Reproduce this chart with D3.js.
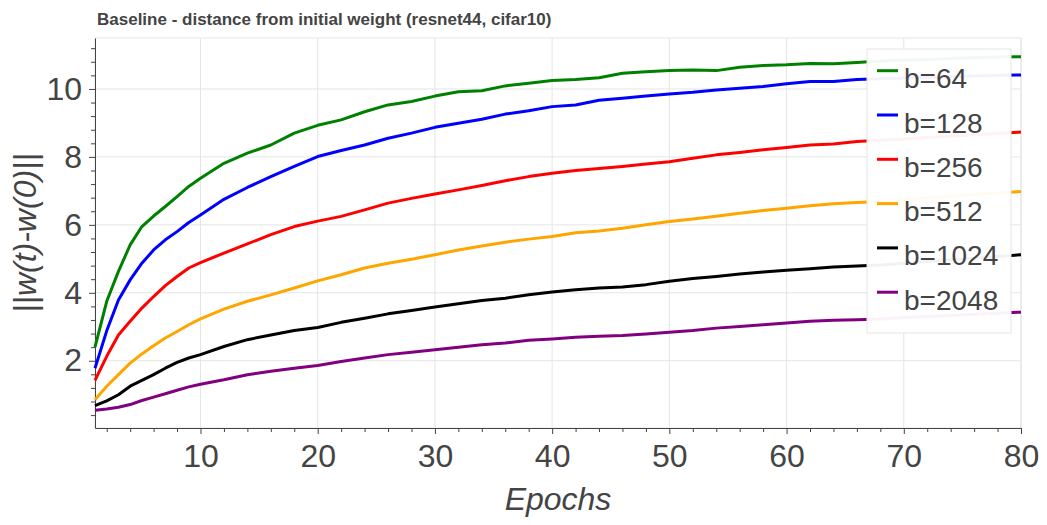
<!DOCTYPE html>
<html>
<head>
<meta charset="utf-8">
<script src="https://cdn.jsdelivr.net/npm/d3@7"></script>
<style>
    body { margin: 0; background: #fff; }
    text { font-family: 'Liberation Sans', Arial, Helvetica, sans-serif; fill: #444; }
    .grid line { stroke: #e5e5e5; }
    .axis path, .axis line { stroke: #444; }
</style>
</head>
<body>
<svg width="1047" height="525"></svg>
<script>
const svg = d3.select('svg');

const width = +svg.attr('width');
const height = +svg.attr('height');

const epochs = [1, 2, 3, 4, 5, 6, 7, 8, 9, 10,
    12, 14, 16, 18, 20, 22, 24, 26, 28, 30, 32, 34, 36, 38, 40,
    42, 44, 46, 48, 50, 52, 54, 56, 58, 60, 62, 64, 66, 68, 70,
    72, 74, 76, 78, 80];

const b64 = [2.40, 3.75, 4.63, 5.41, 5.95, 6.26, 6.54, 6.83, 7.13, 7.37,
    7.81, 8.11, 8.35, 8.70, 8.93, 9.09, 9.33, 9.53, 9.63, 9.79, 9.92, 9.95, 10.09, 10.17, 10.25,
    10.28, 10.33, 10.46, 10.51, 10.54, 10.56, 10.54, 10.64, 10.69, 10.71, 10.75, 10.74, 10.78, 10.82, 10.85,
    10.87, 10.90, 10.92, 10.94, 10.95];
const b128 = [1.78, 2.88, 3.79, 4.38, 4.87, 5.26, 5.56, 5.80, 6.07, 6.29,
    6.75, 7.10, 7.42, 7.72, 8.01, 8.19, 8.35, 8.55, 8.70, 8.87, 8.99, 9.11, 9.26, 9.36, 9.48,
    9.53, 9.67, 9.73, 9.79, 9.85, 9.90, 9.97, 10.02, 10.07, 10.15, 10.22, 10.22, 10.28, 10.30, 10.32,
    10.34, 10.36, 10.38, 10.40, 10.41];
const b256 = [1.42, 2.13, 2.76, 3.16, 3.55, 3.89, 4.21, 4.48, 4.73, 4.89,
    5.17, 5.44, 5.71, 5.95, 6.11, 6.25, 6.44, 6.64, 6.78, 6.91, 7.03, 7.16, 7.30, 7.42, 7.52,
    7.60, 7.66, 7.72, 7.79, 7.86, 7.96, 8.06, 8.13, 8.21, 8.28, 8.35, 8.38, 8.45, 8.49, 8.53,
    8.57, 8.61, 8.65, 8.69, 8.73];
const b512 = [0.85, 1.25, 1.59, 1.93, 2.20, 2.44, 2.67, 2.86, 3.06, 3.23,
    3.52, 3.75, 3.94, 4.14, 4.35, 4.53, 4.73, 4.87, 4.99, 5.12, 5.26, 5.38, 5.49, 5.58, 5.66,
    5.77, 5.82, 5.90, 6.00, 6.10, 6.17, 6.25, 6.34, 6.42, 6.49, 6.56, 6.62, 6.66, 6.69, 6.74,
    6.79, 6.84, 6.89, 6.94, 6.98];
const b1024 = [0.68, 0.82, 1.00, 1.25, 1.42, 1.59, 1.78, 1.95, 2.08, 2.18,
    2.42, 2.62, 2.76, 2.89, 2.98, 3.13, 3.25, 3.38, 3.48, 3.58, 3.68, 3.77, 3.84, 3.94, 4.02,
    4.09, 4.14, 4.17, 4.24, 4.34, 4.42, 4.48, 4.55, 4.61, 4.66, 4.71, 4.76, 4.79, 4.82, 4.87,
    4.92, 4.97, 5.02, 5.07, 5.12];
const b2048 = [0.54, 0.58, 0.63, 0.71, 0.83, 0.93, 1.03, 1.13, 1.23, 1.31,
    1.44, 1.59, 1.69, 1.78, 1.86, 1.98, 2.08, 2.18, 2.25, 2.32, 2.40, 2.47, 2.52, 2.60, 2.64,
    2.69, 2.72, 2.74, 2.79, 2.84, 2.89, 2.96, 3.01, 3.06, 3.11, 3.16, 3.19, 3.21, 3.23, 3.27,
    3.30, 3.33, 3.37, 3.40, 3.43];

const labels = ['b=64', 'b=128', 'b=256', 'b=512', 'b=1024', 'b=2048'];
const colors = ['green', 'blue', 'red', 'orange', 'black', 'purple'];
const values = [b64, b128, b256, b512, b1024, b2048];

const xTicks = [10, 20, 30, 40, 50, 60, 70, 80];
const yTicks = [2, 4, 6, 8, 10];

const series = labels.map((name, i) => ({
    name,
    color: colors[i],
    points: epochs.map((e, j) => ({ x: e, y: values[i][j] }))
}));

const margin = { top: 38, bottom: 97, right: 26, left: 95 };
const innerWidth = width - margin.left - margin.right;
const innerHeight = height - margin.top - margin.bottom;

const xScale = d3.scaleLinear().domain([1, 80]).range([0, innerWidth]);
const yScale = d3.scaleLinear().domain([0.02, 11.5]).range([innerHeight, 0]);

const g = svg.append('g')
    .attr('transform', `translate(${margin.left}, ${margin.top})`);

// grid
g.append('g').attr('class', 'grid')
    .selectAll('line').data(xTicks).enter().append('line')
    .attr('x1', (d) => xScale(d)).attr('x2', (d) => xScale(d))
    .attr('y1', 0).attr('y2', innerHeight);
g.append('g').attr('class', 'grid')
    .selectAll('line').data(yTicks).enter().append('line')
    .attr('x1', 0).attr('x2', innerWidth)
    .attr('y1', (d) => yScale(d)).attr('y2', (d) => yScale(d));

// plot outline
g.append('rect')
    .attr('width', innerWidth).attr('height', innerHeight)
    .attr('fill', 'none').attr('stroke', '#e5e5e5');

// minor ticks
const xMinor = d3.range(2, 81, 2).filter((d) => d % 10 !== 0);
const yMinor = d3.range(0.4, 11.5, 0.4).filter((d) => Math.abs(d / 2 - Math.round(d / 2)) > 0.01);

g.append('g').attr('class', 'axis')
    .attr('transform', `translate(0, ${innerHeight})`)
    .call(d3.axisBottom(xScale).tickValues(xMinor).tickSize(4).tickFormat(''))
    .select('.domain').remove();
g.append('g').attr('class', 'axis')
    .call(d3.axisLeft(yScale).tickValues(yMinor).tickSize(4).tickFormat(''))
    .select('.domain').remove();

const xAxisG = g.append('g').attr('class', 'axis')
    .attr('transform', `translate(0, ${innerHeight})`)
    .call(d3.axisBottom(xScale).tickValues(xTicks).tickSize(6).tickSizeOuter(0));
xAxisG.selectAll('text')
    .attr('y', 39).attr('dy', 0)
    .style('font-size', '32px');

const yAxisG = g.append('g').attr('class', 'axis')
    .call(d3.axisLeft(yScale).tickValues(yTicks).tickSize(6).tickSizeOuter(0));
yAxisG.selectAll('text')
    .attr('x', -13)
    .style('font-size', '32px');

// lines
const line = d3.line()
    .x((d) => xScale(d.x))
    .y((d) => yScale(d.y));

g.selectAll('.series').data(series).enter().append('path')
    .attr('class', 'series')
    .attr('d', (d) => line(d.points))
    .attr('fill', 'none')
    .attr('stroke', (d) => d.color)
    .attr('stroke-width', 3)
    .attr('stroke-linejoin', 'round');

// legend
const legend = svg.append('g').attr('transform', 'translate(867, 49)');
legend.append('rect')
    .attr('width', 144).attr('height', 284)
    .attr('fill', '#fff').attr('fill-opacity', 0.95)
    .attr('stroke', '#e5e5e5');
const entry = legend.selectAll('.entry').data(series).enter().append('g')
    .attr('transform', (d, i) => `translate(0, ${21.7 + i * 44.3})`);
entry.append('line')
    .attr('x1', 10).attr('x2', 31)
    .attr('stroke', (d) => d.color).attr('stroke-width', 3);
entry.append('text')
    .attr('x', 37).attr('y', 17.5)
    .style('font-size', '28px')
    .text((d) => d.name);

// titles
svg.append('text')
    .attr('x', 97).attr('y', 25)
    .style('font-size', '17px').style('font-weight', 'bold')
    .text('Baseline - distance from initial weight (resnet44, cifar10)');

svg.append('text')
    .attr('x', margin.left + innerWidth / 2).attr('y', 510)
    .attr('text-anchor', 'middle')
    .style('font-size', '32px').style('font-style', 'italic')
    .text('Epochs');

svg.append('text')
    .attr('transform', `translate(36, ${margin.top + innerHeight / 2}) rotate(-90)`)
    .attr('text-anchor', 'middle')
    .style('font-size', '32px').style('font-style', 'italic')
    .text('||w(t)-w(0)||');
</script>
</body>
</html>
